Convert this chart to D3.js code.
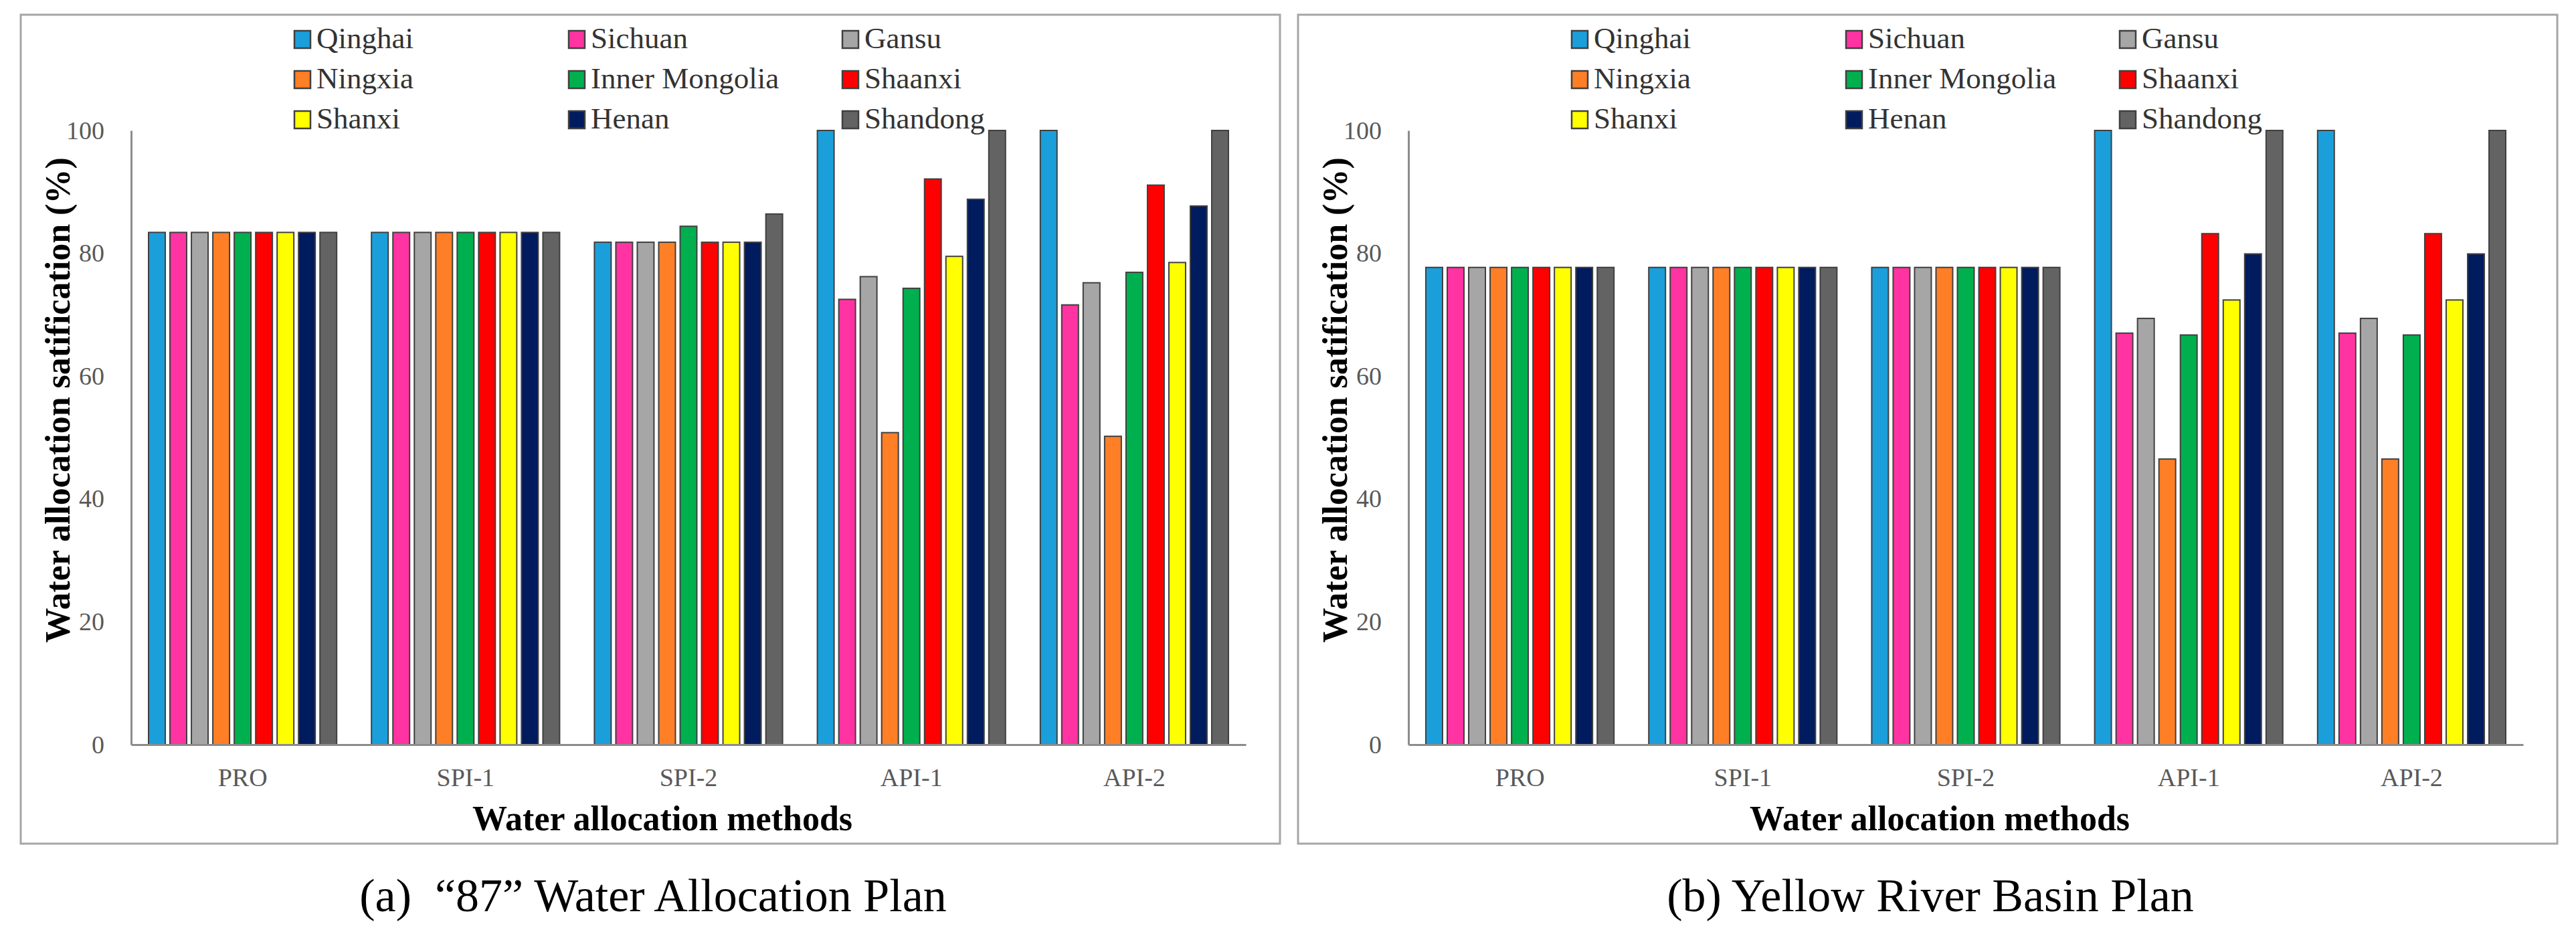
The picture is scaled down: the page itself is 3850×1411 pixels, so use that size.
<!DOCTYPE html>
<html>
<head>
<meta charset="utf-8">
<script src="https://cdn.jsdelivr.net/npm/d3@7"></script>
<style>
  body { margin: 0; background: #fff; }
</style>
</head>
<body>
<script>
// categories and series
const provinces = ['Qinghai', 'Sichuan', 'Gansu', 'Ningxia', 'Inner Mongolia', 'Shaanxi', 'Shanxi', 'Henan', 'Shandong'];
const methods = ['PRO', 'SPI-1', 'SPI-2', 'API-1', 'API-2'];
const colors = ['#1b9fdb', '#ff33a1', '#a6a6a6', '#ff7f27', '#00b04f', '#ff0000', '#ffff00', '#001b5e', '#636363'];
const yTicks = [0, 20, 40, 60, 80, 100];

// (a) "87" Water Allocation Plan, one array per method (province order)
const plan87_PRO  = [83.4, 83.4, 83.4, 83.4, 83.4, 83.4, 83.4, 83.4, 83.4];
const plan87_SPI1 = [83.4, 83.4, 83.4, 83.4, 83.4, 83.4, 83.4, 83.4, 83.4];
const plan87_SPI2 = [81.8, 81.8, 81.8, 81.8, 84.4, 81.8, 81.8, 81.8, 86.4];
const plan87_API1 = [100, 72.5, 76.2, 50.8, 74.3, 92.1, 79.5, 88.8, 100];
const plan87_API2 = [100, 71.6, 75.2, 50.2, 76.9, 91.1, 78.5, 87.7, 100];

// (b) Yellow River Basin Plan
const basin_PRO  = [77.7, 77.7, 77.7, 77.7, 77.7, 77.7, 77.7, 77.7, 77.7];
const basin_SPI1 = [77.7, 77.7, 77.7, 77.7, 77.7, 77.7, 77.7, 77.7, 77.7];
const basin_SPI2 = [77.7, 77.7, 77.7, 77.7, 77.7, 77.7, 77.7, 77.7, 77.7];
const basin_API1 = [100, 67.0, 69.4, 46.5, 66.7, 83.2, 72.4, 79.9, 100];
const basin_API2 = [100, 67.0, 69.4, 46.5, 66.7, 83.2, 72.4, 79.9, 100];

const W = 3850, H = 1411;
const FONT = '"Liberation Serif", "Times New Roman", serif';
const svg = d3.select('body').append('svg').attr('width', W).attr('height', H)
  .attr('font-family', FONT);

//chart frame inside each panel
const plotLeft = 196, plotRight = 1862, plotTop = 195, plotBottom = 1113;

function drawPanel(ox, rows, caption) {
  const g = svg.append('g').attr('transform', 'translate(' + ox + ',0)');

  //panel border
  g.append('rect').attr('x', 31).attr('y', 22).attr('width', 1882).attr('height', 1239)
    .attr('fill', 'none').attr('stroke', '#a6a6a6').attr('stroke-width', 3);

  const table = methods.map((m, i) => ({method: m, values: rows[i]}));

  const x0 = d3.scaleBand().domain(methods).range([plotLeft, plotRight]);
  const gap = 26;
  const x1 = d3.scaleBand().domain(provinces).range([gap, x0.bandwidth() - gap]).paddingInner(0.22);
  const y = d3.scaleLinear().domain([0, 100]).range([plotBottom, plotTop]);

  //bars
  const grp = g.selectAll('g.method').data(table).enter()
    .append('g').attr('class', 'method')
    .attr('transform', d => 'translate(' + x0(d.method) + ',0)');
  grp.selectAll('rect')
    .data(d => d.values.map((v, i) => ({p: provinces[i], v: v, c: colors[i]})))
    .enter().append('rect')
    .attr('x', d => x1(d.p))
    .attr('y', d => y(d.v))
    .attr('width', x1.bandwidth())
    .attr('height', d => y(0) - y(d.v))
    .attr('fill', d => d.c)
    .attr('stroke', '#404040')
    .attr('stroke-width', 2);

  //y axis
  const yAxis = g.append('g').attr('transform', 'translate(' + plotLeft + ',0)')
    .call(d3.axisLeft(y).tickValues(yTicks).tickSize(0).tickSizeOuter(0).tickPadding(40));
  yAxis.attr('font-family', FONT);
  yAxis.select('.domain').attr('stroke', '#8c8c8c').attr('stroke-width', 3);
  yAxis.selectAll('text').attr('font-size', 38).attr('fill', '#595959');

  //x axis
  const xAxis = g.append('g').attr('transform', 'translate(0,' + plotBottom + ')')
    .call(d3.axisBottom(x0).tickSize(0).tickSizeOuter(0).tickPadding(35));
  xAxis.attr('font-family', FONT);
  xAxis.select('.domain').attr('stroke', '#8c8c8c').attr('stroke-width', 3);
  xAxis.selectAll('text').attr('font-size', 38).attr('fill', '#595959');

  //axis titles
  g.append('text')
    .attr('transform', 'translate(104,598) rotate(-90)')
    .attr('text-anchor', 'middle')
    .attr('font-family', FONT)
    .attr('font-size', 52).attr('font-weight', 'bold')
    .text('Water allocation satification (%)');
  g.append('text')
    .attr('x', 990).attr('y', 1241)
    .attr('text-anchor', 'middle')
    .attr('font-family', FONT)
    .attr('font-size', 52).attr('font-weight', 'bold')
    .text('Water allocation methods');

  //legend, 3 columns x 3 rows
  const colX = [440, 850, 1259];
  const rowY = [59, 119, 179];
  const leg = g.selectAll('g.leg').data(provinces).enter()
    .append('g').attr('class', 'leg')
    .attr('transform', (d, i) => 'translate(' + colX[i % 3] + ',' + rowY[Math.floor(i / 3)] + ')');
  leg.append('rect')
    .attr('x', 0).attr('y', -13).attr('width', 24).attr('height', 26)
    .attr('fill', (d, i) => colors[i]).attr('stroke', '#404040').attr('stroke-width', 2.5);
  leg.append('text')
    .attr('x', 33).attr('y', 13)
    .attr('font-family', FONT)
    .attr('font-size', 45).attr('fill', '#333')
    .text(d => d);

  //caption
  g.append('text')
    .attr('x', 976).attr('y', 1362)
    .attr('text-anchor', 'middle')
    .attr('font-family', FONT)
    .attr('font-size', 70)
    .style('white-space', 'pre')
    .text(caption);
}

drawPanel(0, [plan87_PRO, plan87_SPI1, plan87_SPI2, plan87_API1, plan87_API2], '(a)  \u201c87\u201d Water Allocation Plan');
drawPanel(1909, [basin_PRO, basin_SPI1, basin_SPI2, basin_API1, basin_API2], '(b) Yellow River Basin Plan');
</script>
</body>
</html>
